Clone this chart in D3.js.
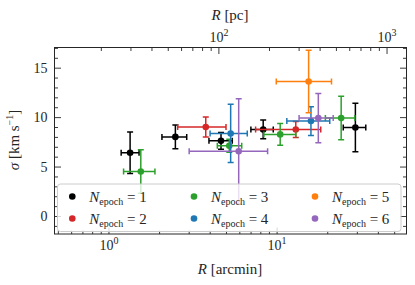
<!DOCTYPE html>
<html><head><meta charset="utf-8">
<script src="https://cdn.jsdelivr.net/npm/d3@7"></script>
<style>
body{margin:0;background:#fff}
</style>
</head><body>
<svg id="c" width="415" height="285"></svg>
<script>
// ---- data ----
const epochs   = [1, 1, 1, 1, 1, 2, 2, 3, 3, 3, 3, 4, 4, 5, 6, 6];
const R        = [1.345, 2.50, 4.67, 8.32, 29.4, 3.79, 13.0, 1.557, 5.23, 10.5, 24.2, 5.33, 16.0, 15.5, 5.95, 17.7];
const Rlo      = [1.19, 2.08, 3.96, 7.03, 24.9, 2.58, 7.5, 1.23, 4.44, 8.4, 19.5, 4.02, 11.5, 9.95, 3.02, 13.6];
const Rhi      = [1.52, 2.92, 5.45, 9.55, 33.9, 5.0, 18.3, 1.89, 6.2, 13.0, 29.2, 6.69, 20.7, 21.2, 8.84, 21.7];
const sigma    = [6.4, 8.0, 7.6, 8.75, 8.95, 9.0, 8.75, 4.5, 7.1, 8.25, 9.9, 8.35, 9.6, 13.6, 6.55, 9.9];
const sigmaErr = [2.1, 1.2, 0.85, 0.95, 2.45, 1.0, 0.8, 2.2, 0.65, 1.1, 2.2, 2.95, 1.45, 3.15, 5.3, 2.5];
const epochGroups = [1, 2, 3, 4, 5, 6];
const groupColors = ['#000000', '#d62728', '#2ca02c', '#1f77b4', '#ff7f0e', '#9467bd'];
const yMajor = [0, 5, 10, 15];
const yMinor = [-1, 1, 2, 3, 4, 6, 7, 8, 9, 11, 12, 13, 14, 16, 17];
const xMajor = [1, 10];
const xMinor = [0.5, 0.6, 0.7, 0.8, 0.9, 2, 3, 4, 5, 6, 7, 8, 9, 20, 30, 40, 50];
const topMajor = [100, 1000];
const topMinor = [20, 30, 40, 50, 60, 70, 80, 90, 200, 300, 400, 500, 600, 700, 800, 900];
const pcPerArcmin = 22.2;
const xDomain = [0.4777, 59.2];
const yDomain = [-1.82, 17.04];

// ---- layout ----
const FONT = '"Times New Roman"';
const INK = '#262626';
const L = 54.5, Rt = 406.5, T = 47.5, B = 234;
const svg = d3.select('#c');
const x = d3.scaleLog().domain(xDomain).range([L, Rt]);
const xTop = d3.scaleLog().domain(xDomain.map(d => d * pcPerArcmin)).range([L, Rt]);
const y = d3.scaleLinear().domain(yDomain).range([B, T]);
const color = d3.scaleOrdinal().domain(epochGroups).range(groupColors);

function txt(parent, size) {
  return parent.append('text').attr('font-size', size).style('font-family', FONT).attr('fill', INK);
}

svg.append('defs').append('clipPath').attr('id', 'clip')
  .append('rect').attr('x', L).attr('y', T).attr('width', Rt - L).attr('height', B - T);

// ---- data marks ----
const plot = svg.append('g').attr('clip-path', 'url(#clip)');
const cap = 3;
epochGroups.forEach(g => {
  const idx = d3.range(R.length).filter(i => epochs[i] === g);
  const gg = plot.append('g').attr('stroke', color(g)).attr('stroke-width', 1.5).attr('fill', 'none');
  idx.forEach(i => {
    const cx = x(R[i]), cy = y(sigma[i]);
    const x0 = x(Rlo[i]), x1 = x(Rhi[i]);
    const y0 = y(sigma[i] - sigmaErr[i]), y1 = y(sigma[i] + sigmaErr[i]);
    gg.append('line').attr('x1', x0).attr('x2', x1).attr('y1', cy).attr('y2', cy);
    gg.append('line').attr('x1', cx).attr('x2', cx).attr('y1', y0).attr('y2', y1);
    [x0, x1].forEach(v => gg.append('line').attr('x1', v).attr('x2', v).attr('y1', cy - cap).attr('y2', cy + cap));
    [y0, y1].forEach(v => gg.append('line').attr('x1', cx - cap).attr('x2', cx + cap).attr('y1', v).attr('y2', v));
  });
  plot.append('g').selectAll('circle').data(idx).join('circle')
    .attr('cx', i => x(R[i])).attr('cy', i => y(sigma[i])).attr('r', 3.3)
    .attr('fill', color(g));
});

// ---- axes ----
function sup(sel, base, exp) {
  sel.text(null);
  sel.append('tspan').text(base);
  sel.append('tspan').attr('font-size', 10).attr('dy', -6).text(exp);
}
const tickStyle = g => {
  g.attr('font-family', null).attr('font-size', 14);
  g.select('.domain').remove();
  g.selectAll('.tick line').attr('stroke', INK).attr('stroke-width', 0.9);
  g.selectAll('text').attr('fill', INK).style('font-family', FONT);
};

svg.append('g').attr('transform', `translate(0,${B})`)
  .call(d3.axisBottom(x).tickValues(xMinor).tickSize(-3.5).tickFormat(''))
  .call(tickStyle);
svg.append('g').attr('transform', `translate(0,${B})`)
  .call(d3.axisBottom(x).tickValues(xMajor).tickSize(-6.5).tickPadding(6).tickFormat(''))
  .call(tickStyle)
  .call(g => g.selectAll('.tick text').each(function(d) { sup(d3.select(this), '10', String(Math.round(Math.log10(d)))); }));

svg.append('g').attr('transform', `translate(0,${T})`)
  .call(d3.axisTop(xTop).tickValues(topMinor).tickSize(-3.5).tickFormat(''))
  .call(tickStyle);
svg.append('g').attr('transform', `translate(0,${T})`)
  .call(d3.axisTop(xTop).tickValues(topMajor).tickSize(-6.5).tickPadding(6).tickFormat(''))
  .call(tickStyle)
  .call(g => g.selectAll('.tick text').each(function(d) { sup(d3.select(this), '10', String(Math.round(Math.log10(d)))); }));

svg.append('g').attr('transform', `translate(${L},0)`)
  .call(d3.axisLeft(y).tickValues(yMinor).tickSize(-3.5).tickFormat(''))
  .call(tickStyle);
svg.append('g').attr('transform', `translate(${L},0)`)
  .call(d3.axisLeft(y).tickValues(yMajor).tickSize(-6.5).tickPadding(7).tickFormat(d3.format('d')))
  .call(tickStyle);
svg.append('g').attr('transform', `translate(${Rt},0)`)
  .call(d3.axisRight(y).tickValues(yMinor).tickSize(-3.5).tickFormat(''))
  .call(tickStyle);
svg.append('g').attr('transform', `translate(${Rt},0)`)
  .call(d3.axisRight(y).tickValues(yMajor).tickSize(-6.5).tickFormat(''))
  .call(tickStyle);

svg.append('rect').attr('x', L).attr('y', T).attr('width', Rt - L).attr('height', B - T)
  .attr('fill', 'none').attr('stroke', INK).attr('stroke-width', 1);

// ---- axis titles ----
const xt = txt(svg, 15).attr('x', 230).attr('y', 274).attr('text-anchor', 'middle');
xt.append('tspan').attr('font-style', 'italic').text('R');
xt.append('tspan').text(' [arcmin]');
const tt = txt(svg, 15).attr('x', 230).attr('y', 20).attr('text-anchor', 'middle');
tt.append('tspan').attr('font-style', 'italic').text('R');
tt.append('tspan').text(' [pc]');
const yt = txt(svg, 15).attr('transform', 'translate(19,140) rotate(-90)').attr('text-anchor', 'middle');
yt.append('tspan').attr('font-style', 'italic').text('σ');
yt.append('tspan').text('  [km s');
yt.append('tspan').attr('font-size', 10).attr('dy', -6).text('−1');
yt.append('tspan').attr('dy', 6).text(']');

// ---- legend ----
const lg = svg.append('g');
lg.append('rect').attr('x', 57.5).attr('y', 184).attr('width', 343.5).attr('height', 47.5).attr('rx', 3)
  .attr('fill', '#fff').attr('fill-opacity', 0.8).attr('stroke', '#cccccc').attr('stroke-width', 1);
const colX = [72.3, 194, 315];
const rowY = [196.5, 218.5];
epochGroups.forEach((g, k) => {
  const cx = colX[Math.floor(k / 2)], cy = rowY[k % 2];
  lg.append('circle').attr('cx', cx).attr('cy', cy).attr('r', 3.3).attr('fill', color(g));
  const t = txt(lg, 15).attr('x', cx + 17).attr('y', cy + 5);
  t.append('tspan').attr('font-style', 'italic').text('N');
  t.append('tspan').attr('font-size', 10).attr('dy', 3).text('epoch');
  t.append('tspan').attr('dy', -3).text(' = ' + g);
});
</script>
</body></html>
